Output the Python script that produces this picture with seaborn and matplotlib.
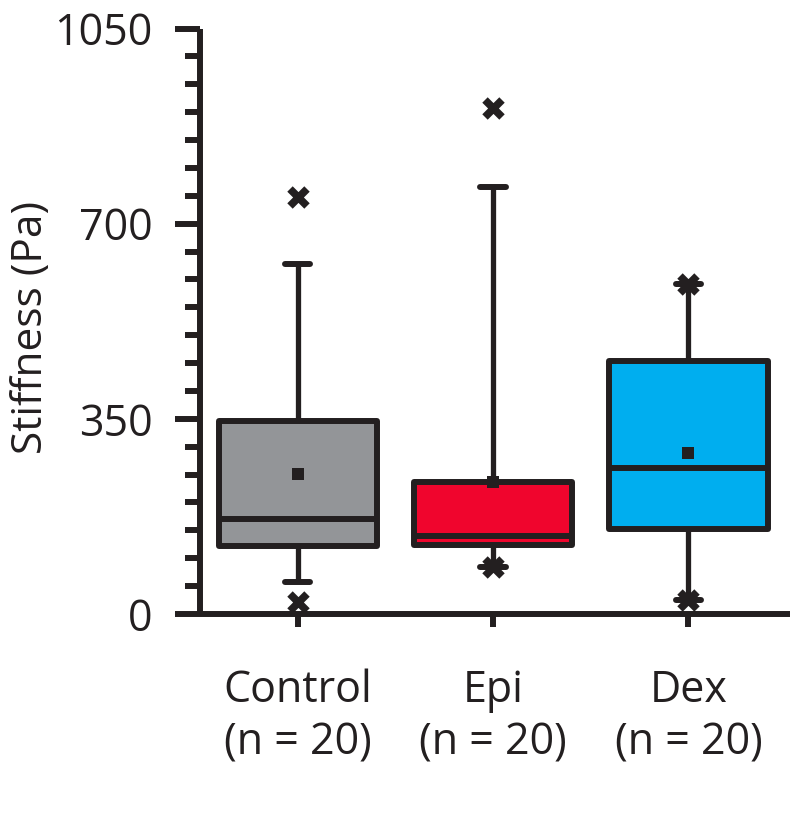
import matplotlib
matplotlib.use("Agg")
import matplotlib.pyplot as plt
import seaborn as sns
import pandas as pd

# ---- data ----
groups = ["Control", "Epi", "Dex"]
n_labels = ["(n = 20)", "(n = 20)", "(n = 20)"]
q1 = [122, 124, 152]
median = [170, 140, 261]
q3 = [346, 237, 453]
whisker_low = [57, 84, 25]
whisker_high = [628, 766, 591]
mean = [251, 237, 289]
minimum = [21, 84, 25]
maximum = [748, 907, 591]
colors = ["#939598", "#F0052D", "#00AEEF"]
yticks = [0, 350, 700, 1050]

dark = "#231F20"

sns.set_style("ticks")
plt.rcParams["font.family"] = ["Open Sans", "DejaVu Sans"]

fig = plt.figure(figsize=(7.93, 8.30), dpi=100)
ax = fig.add_axes([200 / 793, 1 - 614 / 830, 590 / 793, 585.5 / 830])

stats = []
for i, g in enumerate(groups):
    stats.append(dict(label=g, q1=q1[i], med=median[i], q3=q3[i],
                      whislo=whisker_low[i], whishi=whisker_high[i], fliers=[]))

lw = 4.3
bp = ax.bxp(stats, positions=range(len(groups)), widths=0.81, patch_artist=True,
            showfliers=False, capwidths=0.13,
            boxprops=dict(linewidth=lw, edgecolor=dark, joinstyle="round"),
            medianprops=dict(color=dark, linewidth=lw),
            whiskerprops=dict(color=dark, linewidth=3.8, solid_capstyle="butt"),
            capprops=dict(color=dark, linewidth=lw, solid_capstyle="round"),
            manage_ticks=False, zorder=2)
for patch, c in zip(bp["boxes"], colors):
    patch.set_facecolor(c)

df_mean = pd.DataFrame({"x": range(len(groups)), "y": mean})
sns.scatterplot(data=df_mean, x="x", y="y", marker="s", s=66, color=dark,
                edgecolor=dark, linewidth=0, ax=ax, zorder=5)

df_ext = pd.DataFrame({"x": list(range(len(groups))) * 2, "y": minimum + maximum})
sns.scatterplot(data=df_ext, x="x", y="y", marker="x", s=150, color=dark,
                linewidth=5.5, ax=ax, zorder=6, clip_on=False)

ax.set_xlim(-0.5, 2.52)
ax.set_ylim(0, 1050)
ax.set_yticks(yticks)
ax.set_yticklabels([str(t) for t in yticks])
ax.set_yticks(range(0, 1051, 50), minor=True)
ax.set_xticks(range(len(groups)))
ax.set_xticklabels([f"{g}\n{n}" for g, n in zip(groups, n_labels)],
                   linespacing=1.25)
ax.set_xlabel("")
ax.set_ylabel("Stiffness (Pa)", fontsize=30.5, color=dark)
ax.yaxis.set_label_coords((52 - 200) / 590, (614 - 327) / 585.5)

for side in ["top", "right"]:
    ax.spines[side].set_visible(False)
for side in ["left", "bottom"]:
    ax.spines[side].set_linewidth(4.3)
    ax.spines[side].set_color(dark)
    ax.spines[side].set_capstyle("butt")

ax.tick_params(axis="y", which="major", length=18, width=4.3, color=dark,
               labelsize=31, labelcolor=dark, pad=16)
ax.tick_params(axis="y", which="minor", length=11, width=4.3, color=dark)
ax.tick_params(axis="x", which="major", length=9, width=4.3, color=dark,
               labelsize=31, labelcolor=dark, pad=30, direction="out")
ax.set_facecolor("white")
fig.patch.set_facecolor("white")

fig.savefig("out.png", dpi=100)
